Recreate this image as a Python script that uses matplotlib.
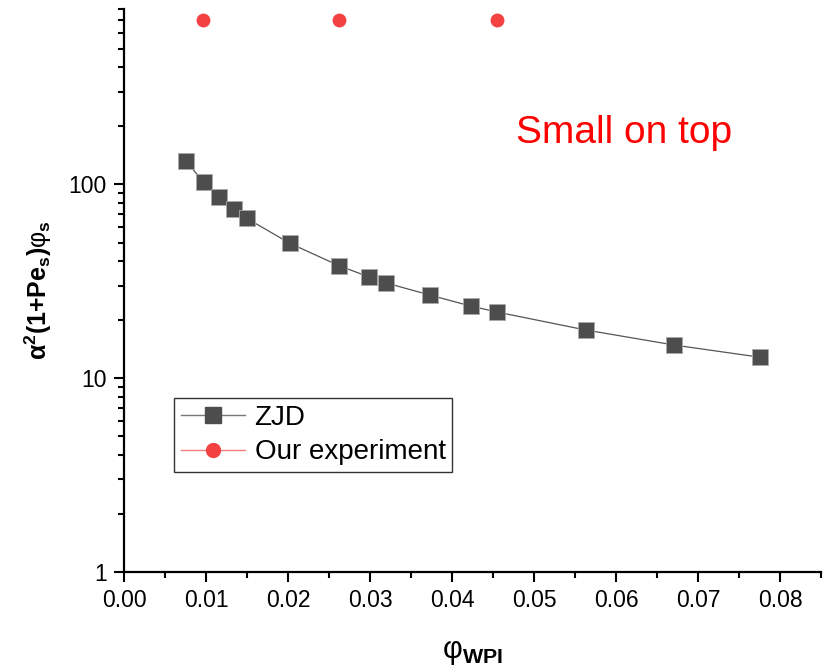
import matplotlib
matplotlib.use("Agg")
from matplotlib import pyplot as plt
from matplotlib.lines import Line2D
from matplotlib.ticker import LogLocator, FixedLocator, MultipleLocator, NullFormatter

plt.rcParams['font.family'] = ['Liberation Sans', 'DejaVu Sans']
plt.rcParams['mathtext.fontset'] = 'custom'
plt.rcParams['mathtext.rm'] = 'Liberation Sans'
plt.rcParams['mathtext.it'] = 'Liberation Sans:italic'
plt.rcParams['mathtext.bf'] = 'Liberation Sans:bold'

# ZJD curve
phi_zjd = [0.00756, 0.00976, 0.0116, 0.0134, 0.0150, 0.0202, 0.0262, 0.0299,
           0.0320, 0.0373, 0.0423, 0.0455, 0.0563, 0.0671, 0.0776]
val_zjd = [131.0, 102.0, 85.7, 74.3, 66.5, 49.6, 38.0, 33.2,
           30.9, 26.8, 23.5, 21.9, 17.7, 14.8, 12.8]

# our experiment
phi_exp = [0.0096, 0.0262, 0.0455]
val_exp = [700, 700, 700]

xticks = [0, 0.01, 0.02, 0.03, 0.04, 0.05, 0.06, 0.07, 0.08]
xlabels = ['0.00', '0.01', '0.02', '0.03', '0.04', '0.05', '0.06', '0.07', '0.08']

grey = '#4d4d4d'
red = '#f44242'

fig = plt.figure(figsize=(8.23, 6.70), dpi=100)
ax = fig.add_axes([124/823, 98/670, 697/823, 563/670])

ax.plot(phi_zjd, val_zjd, '-', color='#555555', lw=0.9, zorder=2)
ax.plot(phi_zjd, val_zjd, 's', color=grey, ms=11, mec='#aaaaaa', mew=0.6, zorder=3)
ax.plot(phi_exp, val_exp, 'o', color=red, ms=10, mec=red, mew=0, zorder=3)

ax.set_yscale('log')
ax.set_xlim(0, 0.085)
ax.set_ylim(1, 800)

ax.xaxis.set_major_locator(FixedLocator(xticks))
ax.xaxis.set_minor_locator(MultipleLocator(0.005))
ax.set_xticklabels(xlabels)
ax.yaxis.set_major_locator(FixedLocator([1, 10, 100]))
ax.set_yticklabels(['1', '10', '100'])
ax.yaxis.set_minor_locator(LogLocator(base=10, subs=range(2, 10)))
ax.yaxis.set_minor_formatter(NullFormatter())

for s in ['top', 'right']:
    ax.spines[s].set_visible(False)
for s in ['left', 'bottom']:
    ax.spines[s].set_linewidth(1.6)

ax.tick_params(which='major', direction='out', length=7.5, width=1.5, labelsize=16.5, pad=5)
ax.tick_params(which='minor', direction='out', length=4, width=1.5)

ax.set_xlabel(r'$\mathrm{\varphi}_{\mathbf{WPI}}$', fontsize=22, labelpad=18)
ax.set_ylabel(r'$\mathbf{\alpha^2(1{+}Pe_s)}\mathrm{\varphi}_{\mathbf{s}}$', fontsize=18, labelpad=10)

ax.text(0.718, 0.78, 'Small on top', color='#ff0000', fontsize=28,
        ha='center', va='center', transform=ax.transAxes)

handles = [
    Line2D([], [], color='#777777', lw=1, marker='s', ms=11, mfc=grey, mec=grey),
    Line2D([], [], color='#f08080', lw=1, marker='o', ms=10, mfc=red, mec=red),
]
leg = ax.legend(handles, ['ZJD', 'Our experiment'], loc='upper left',
                bbox_to_anchor=(0.0717, 0.309), borderaxespad=0, fontsize=20,
                frameon=True, fancybox=False, edgecolor='black',
                handlelength=2.3, handletextpad=0.35, borderpad=0.25,
                labelspacing=0.3)
leg.get_frame().set_linewidth(1.0)

fig.savefig('out.png', dpi=100)
